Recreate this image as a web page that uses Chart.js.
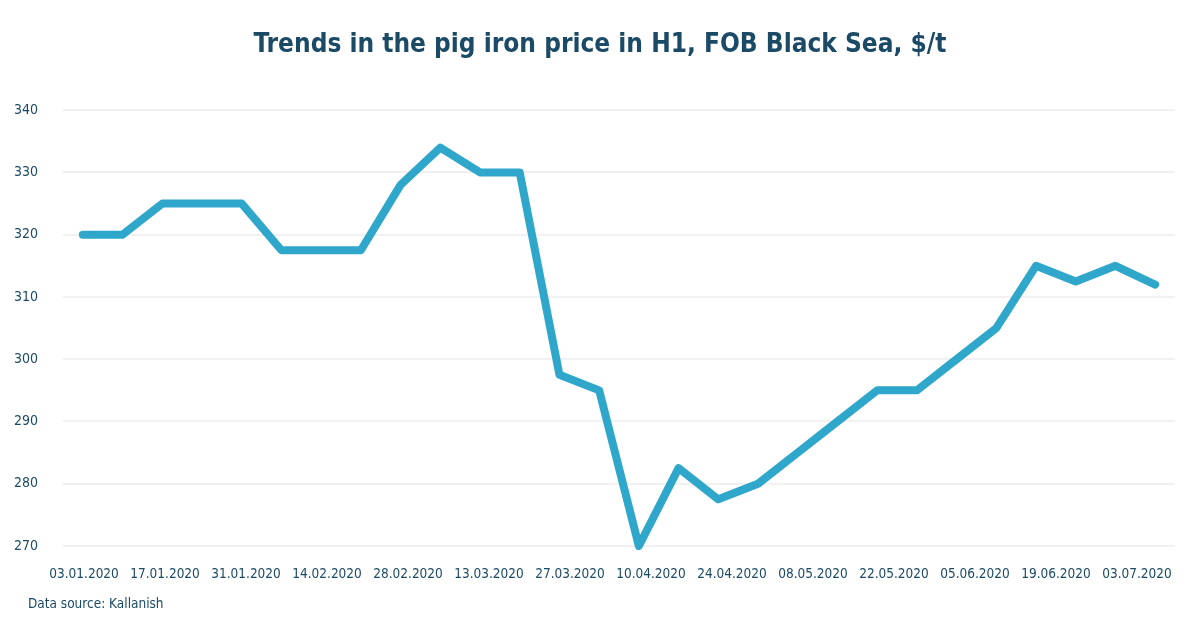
<!DOCTYPE html>
<html>
<head>
<meta charset="utf-8">
<script src="https://cdn.jsdelivr.net/npm/chart.js@4/dist/chart.umd.min.js"></script>
<style>
  html, body { margin: 0; padding: 0; background: #fff; }
  #wrap { width: 1200px; height: 630px; position: relative; }
</style>
</head>
<body>
<div id="wrap"><canvas id="priceChart" width="1200" height="630"></canvas></div>
<script>
// weekly price points, $/t
const prices = [320, 320, 325, 325, 325, 317.5, 317.5, 317.5, 328, 334, 330, 330, 297.5, 295,
                270, 282.5, 277.5, 280, 285, 290, 295, 295, 300, 305, 315, 312.5, 315, 312];
const weeks = prices.map((_, i) => i + 1);

// date labels on the x axis
const dateLabels = ['03.01.2020', '17.01.2020', '31.01.2020', '14.02.2020', '28.02.2020', '13.03.2020', '27.03.2020',
                    '10.04.2020', '24.04.2020', '08.05.2020', '22.05.2020', '05.06.2020', '19.06.2020', '03.07.2020'];

// y axis ticks
const yTicks = [270, 280, 290, 300, 310, 320, 330, 340];

const textColor = '#1b4a66';
const lineColor = '#2ea7cb';
const fontFamily = "'Liberation Sans Narrow', 'DejaVu Sans Condensed', sans-serif";

// footnote under the axis
const sourceNote = {
    id: 'sourceNote',
    afterDraw(chart) {
        const c = chart.ctx;
        c.save();
        c.font = '13.5px ' + fontFamily;
        c.fillStyle = textColor;
        c.textBaseline = 'middle';
        c.textAlign = 'left';
        c.fillText('Data source: Kallanish', 28, 604);
        c.restore();
    }
};

new Chart(document.getElementById('priceChart').getContext('2d'), {
    type: 'line',
    data: {
        labels: weeks,
        datasets: [{
            data: prices,
            borderColor: lineColor,
            borderWidth: 8,
            borderCapStyle: 'round',
            borderJoinStyle: 'round',
            pointRadius: 0,
            tension: 0,
            fill: false,
            clip: false
        }]
    },
    options: {
        responsive: false,
        animation: false,
        layout: { padding: 0 },
        plugins: {
            legend: { display: false },
            tooltip: { enabled: false },
            title: {
                display: true,
                text: 'Trends in the pig iron price in H1, FOB Black Sea, $/t',
                color: textColor,
                font: { family: fontFamily, size: 26, weight: 'bold' },
                padding: { top: 30, bottom: 49 }
            }
        },
        scales: {
            x: {
                type: 'category',
                offset: true,
                display: false
            },
            xl: {
                type: 'linear',
                position: 'bottom',
                min: -0.26,
                max: 13.47,
                grid: { display: false, drawTicks: false },
                border: { display: false },
                afterBuildTicks(axis) {
                    axis.ticks = dateLabels.map((_, i) => ({ value: i }));
                },
                afterFit(axis) {
                    axis.height = 84;
                    axis.paddingLeft = 0;
                    axis.paddingRight = 25;
                },
                ticks: {
                    autoSkip: false,
                    maxRotation: 0,
                    padding: 20,
                    color: textColor,
                    font: { family: fontFamily, size: 13.5 },
                    callback: (value) => dateLabels[Math.round(value)]
                }
            },
            y: {
                min: yTicks[0],
                max: yTicks[yTicks.length - 1],
                afterBuildTicks(axis) {
                    axis.ticks = yTicks.map(v => ({ value: v }));
                },
                afterFit(axis) {
                    axis.width = 63;
                },
                grid: { color: '#f1f1f1', lineWidth: 2, drawTicks: false },
                border: { display: false },
                ticks: {
                    padding: 25,
                    color: textColor,
                    font: { family: fontFamily, size: 14 }
                }
            }
        }
    },
    plugins: [sourceNote]
});
</script>
</body>
</html>
